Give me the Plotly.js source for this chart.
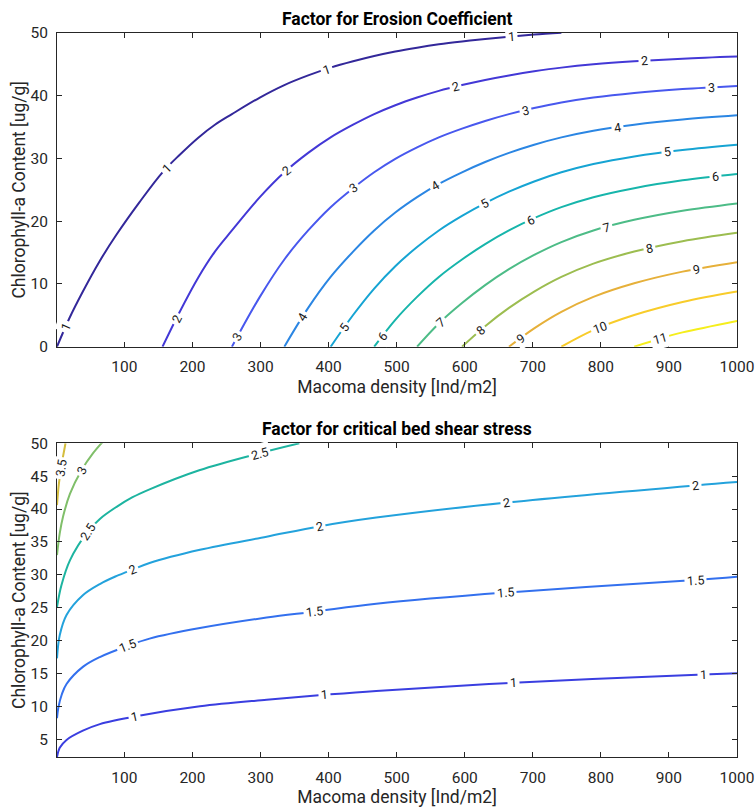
<!DOCTYPE html>
<html>
<head>
<meta charset="utf-8">
<script src="https://cdn.plot.ly/plotly-3.0.1.min.js"></script>
<style>
  html, body { margin: 0; padding: 0; background: #ffffff; }
  #chart { width: 756px; height: 809px; }
</style>
</head>
<body>
<div id="chart"></div>
<script>
// ---- Factor for Erosion Coefficient: contour levels traced over (Macoma density, Chlorophyll-a) ----
const erosionLevels = [1, 2, 3, 4, 5, 6, 7, 8, 9, 10, 11];
const erosionColors = ['#33289a', '#4338d6', '#4858ee', '#2b86e3', '#16a4d3', '#17b5ab',
                       '#4dbc87', '#9cbd50', '#e6b03a', '#f8cc2a', '#f5ee1c'];
const erosionCurveX = [
  [1, 19, 39, 63, 88, 122, 156, 181, 209, 233, 258, 299, 335, 370, 403, 436, 467, 498, 530, 562, 596, 630, 665, 702, 742],
  [156, 181, 209, 233, 258, 299, 335, 370, 403, 436, 467, 498, 530, 562, 596, 630, 665, 702, 742, 789, 849, 920, 1000],
  [258, 299, 335, 370, 403, 436, 467, 498, 530, 562, 596, 630, 665, 702, 742, 789, 849, 920, 1000],
  [335, 370, 403, 436, 467, 498, 530, 562, 596, 630, 665, 702, 742, 789, 849, 920, 1000],
  [403, 436, 467, 498, 530, 562, 596, 630, 665, 702, 742, 789, 849, 920, 1000],
  [467, 498, 530, 562, 596, 630, 665, 702, 742, 789, 849, 920, 1000],
  [530, 562, 596, 630, 665, 702, 742, 789, 849, 920, 1000],
  [596, 630, 665, 702, 742, 789, 849, 920, 1000],
  [665, 702, 742, 789, 849, 920, 1000],
  [742, 789, 849, 920, 1000],
  [849, 885, 920, 1000]
];
const erosionCurveY = [
  [0, 4.5, 8.8, 13.51, 17.8, 23.01, 27.8, 30.56, 33.36, 35.38, 37.07, 39.71, 41.7, 43.24, 44.48, 45.49, 46.33, 47.05, 47.66, 48.19, 48.65, 49.06, 49.42, 49.75, 50.04],
  [0, 5.5, 11.12, 15.16, 18.53, 23.83, 27.8, 30.89, 33.36, 35.38, 37.07, 38.49, 39.71, 40.77, 41.7, 42.52, 43.24, 43.89, 44.48, 45.01, 45.49, 45.91, 46.24],
  [0, 7.94, 13.9, 18.53, 22.24, 25.27, 27.8, 29.94, 31.77, 33.36, 34.75, 35.98, 37.07, 38.04, 38.92, 39.71, 40.44, 41.06, 41.56],
  [0, 6.18, 11.12, 15.16, 18.53, 21.38, 23.83, 25.95, 27.8, 29.44, 30.89, 32.19, 33.36, 34.42, 35.38, 36.21, 36.88],
  [0, 5.05, 9.27, 12.83, 15.89, 18.53, 20.85, 22.89, 24.71, 26.34, 27.8, 29.12, 30.33, 31.36, 32.2],
  [0, 4.28, 7.94, 11.12, 13.9, 16.35, 18.53, 20.48, 22.24, 23.83, 25.27, 26.52, 27.52],
  [0, 3.71, 6.95, 9.81, 12.36, 14.63, 16.68, 18.53, 20.22, 21.67, 22.84],
  [0, 3.27, 6.18, 8.78, 11.12, 13.24, 15.16, 16.82, 18.16],
  [0, 2.93, 5.56, 7.94, 10.11, 11.97, 13.48],
  [0, 2.65, 5.05, 7.13, 8.8],
  [0, 1.24, 2.28, 4.12]
];
const erosionLabelX = [
  [14, 162, 397, 668], [176, 338, 586, 864], [266, 437, 689, 963], [362, 557, 824],
  [423, 629, 898], [479, 696, 968], [564, 808], [623, 871], [682, 940], [799], [887]
];

// ---- Factor for critical bed shear stress ----
const shearLevels = [1, 1.5, 2, 2.5, 3, 3.5];
const shearColors = ['#3a3ee0', '#3370ee', '#23a2dc', '#1db4a0', '#80bf6a', '#d4bd3e'];
const shearCurveX = [
  [1, 5, 15, 39, 64, 115, 211, 309, 394, 470, 672, 951, 1000],
  [1, 3, 8, 15, 39, 64, 105, 137, 211, 309, 379, 470, 660, 939, 1000],
  [1, 5, 15, 39, 64, 88, 112, 137, 211, 309, 388, 470, 662, 939, 1000],
  [1, 7.5, 20, 46.5, 64, 88, 112, 137, 210, 299, 357],
  [1, 5, 10, 20, 37, 54, 68],
  [1, 3.5, 6, 9, 11.5, 13.5]
];
const shearCurveY = [
  [2.3, 3.7, 4.9, 6.3, 7.3, 8.45, 10.0, 11.0, 11.75, 12.35, 13.6, 14.85, 15.05],
  [8.2, 9.8, 11.8, 13.4, 16.0, 17.5, 19.2, 20.3, 21.9, 23.5, 24.4, 25.6, 27.3, 29.2, 29.7],
  [17.3, 20.8, 23.9, 26.9, 28.6, 29.8, 30.8, 31.8, 33.8, 35.8, 37.4, 38.7, 41.0, 43.6, 44.1],
  [25.1, 28.4, 32.2, 36.6, 38.5, 40.3, 41.8, 43.0, 45.9, 48.5, 50.0],
  [33.0, 36.3, 38.9, 42.3, 45.9, 48.5, 50.2],
  [40.6, 43.6, 45.5, 47.5, 48.9, 50.0]
];
const shearLabelX = [
  [115, 394, 672, 951], [105, 379, 660, 939], [112, 386, 662, 939], [46.5, 299], [37], [7]
];

// axis tick values
const densityTicks = [100, 200, 300, 400, 500, 600, 700, 800, 900, 1000];
const erosionChlTicks = [0, 10, 20, 30, 40, 50];
const shearChlTicks = [5, 10, 15, 20, 25, 30, 35, 40, 45, 50];

// ---- page geometry ----
const W = 756, H = 809;
const M = { l: 57, r: 19, t: 33, b: 52 };
const topDomain = [0.5667, 1];
const botDomain = [0, 0.4333];
const xRange = [1, 1000];
const yRangeTop = [0, 50];
const yRangeBot = [2.3, 50];

const FONT = 'Roboto, "DejaVu Sans", sans-serif';
const AXIS_COLOR = '#262626';

const plotW = W - M.l - M.r;
const plotH = H - M.t - M.b;
const sx = plotW / (xRange[1] - xRange[0]);
const syTop = plotH * (topDomain[1] - topDomain[0]) / (yRangeTop[1] - yRangeTop[0]);
const syBot = plotH * (botDomain[1] - botDomain[0]) / (yRangeBot[1] - yRangeBot[0]);

// point on a traced curve at a given x, with the local slope
function pointOn(xs, ys, x) {
  let i = 0;
  while (i < xs.length - 2 && x > xs[i + 1]) i++;
  const t = (x - xs[i]) / (xs[i + 1] - xs[i]);
  return {
    y: ys[i] + t * (ys[i + 1] - ys[i]),
    dx: xs[i + 1] - xs[i],
    dy: ys[i + 1] - ys[i]
  };
}

const traces = [];
const annotations = [];

function addContours(levels, colors, cxs, cys, labelXs, xa, ya, sy) {
  levels.forEach((lev, k) => {
    traces.push({
      type: 'scatter', mode: 'lines',
      x: cxs[k], y: cys[k],
      xaxis: xa, yaxis: ya,
      line: { color: colors[k], width: 2, shape: 'spline', smoothing: 1 },
      hoverinfo: 'skip', showlegend: false
    });
    labelXs[k].forEach(lx => {
      const p = pointOn(cxs[k], cys[k], lx);
      const ang = Math.atan2(p.dy * sy, p.dx * sx) * 180 / Math.PI;
      annotations.push({
        xref: xa, yref: ya, x: lx, y: p.y,
        text: String(lev), showarrow: false,
        textangle: -ang,
        bgcolor: '#ffffff', borderpad: 2,
        xanchor: 'center', yanchor: 'middle',
        font: { family: FONT, size: 12.5, color: '#1a1a1a' }
      });
    });
  });
}

addContours(erosionLevels, erosionColors, erosionCurveX, erosionCurveY, erosionLabelX, 'x', 'y', syTop);
addContours(shearLevels, shearColors, shearCurveX, shearCurveY, shearLabelX, 'x2', 'y2', syBot);

// subplot titles
annotations.push({
  xref: 'paper', yref: 'paper', x: 0.5, y: topDomain[1], yanchor: 'bottom', yshift: 2,
  text: '<b>Factor for Erosion Coefficient</b>', showarrow: false,
  font: { family: FONT, size: 17.5, color: '#000000' }
});
annotations.push({
  xref: 'paper', yref: 'paper', x: 0.5, y: botDomain[1], yanchor: 'bottom', yshift: 2,
  text: '<b>Factor for critical bed shear stress</b>', showarrow: false,
  font: { family: FONT, size: 17.5, color: '#000000' }
});

function xAxis(anchor) {
  return {
    anchor: anchor, domain: [0, 1], range: xRange,
    tickmode: 'array', tickvals: densityTicks, ticktext: densityTicks.map(String),
    ticks: 'inside', ticklen: 5, tickcolor: AXIS_COLOR, tickwidth: 1,
    showline: true, linecolor: AXIS_COLOR, linewidth: 1, mirror: 'ticks',
    showgrid: false, zeroline: false, ticklabelstandoff: 6,
    tickfont: { family: FONT, size: 15.5, color: AXIS_COLOR },
    title: { text: 'Macoma density [Ind/m2]', font: { family: FONT, size: 17.5, color: AXIS_COLOR }, standoff: 5 }
  };
}
function yAxis(anchor, domain, range, ticks) {
  return {
    anchor: anchor, domain: domain, range: range,
    tickmode: 'array', tickvals: ticks, ticktext: ticks.map(String),
    ticks: 'inside', ticklen: 5, tickcolor: AXIS_COLOR, tickwidth: 1,
    showline: true, linecolor: AXIS_COLOR, linewidth: 1, mirror: 'ticks',
    showgrid: false, zeroline: false, ticklabelstandoff: 5,
    tickfont: { family: FONT, size: 15.5, color: AXIS_COLOR },
    title: { text: 'Chlorophyll-a Content [ug/g]', font: { family: FONT, size: 17.5, color: AXIS_COLOR }, standoff: 0 }
  };
}

const layout = {
  width: W, height: H,
  margin: M,
  paper_bgcolor: '#ffffff', plot_bgcolor: '#ffffff',
  showlegend: false,
  xaxis: xAxis('y'),
  yaxis: yAxis('x', topDomain, yRangeTop, erosionChlTicks),
  xaxis2: xAxis('y2'),
  yaxis2: yAxis('x2', botDomain, yRangeBot, shearChlTicks),
  annotations: annotations
};

Plotly.newPlot('chart', traces, layout, { staticPlot: true, displayModeBar: false });
</script>
</body>
</html>
